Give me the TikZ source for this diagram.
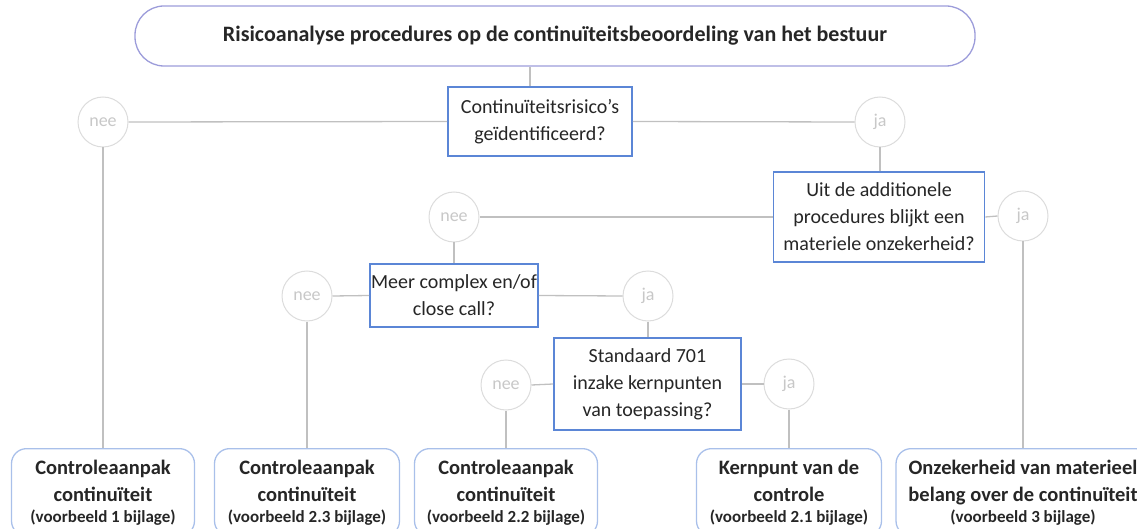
\documentclass[tikz,border=0pt]{standalone}
\usepackage{fontspec}
\setmainfont{Carlito}
\usetikzlibrary{positioning}

\definecolor{qblue}{HTML}{5B86D6}
\definecolor{titleline}{HTML}{9C9CDA}
\definecolor{outblue}{HTML}{A9C0EA}
\definecolor{linkgray}{HTML}{C0C0C0}
\definecolor{circgray}{HTML}{DCDCDC}
\definecolor{anstext}{HTML}{C8C8C8}
\definecolor{textdark}{HTML}{262626}

\newcommand{\bijlage}[1]{{\fontsize{17}{20}\selectfont (voorbeeld #1 bijlage)}}

\begin{document}
\begin{tikzpicture}[x=1pt, y=-1pt,
    titlebox/.style={draw=titleline, line width=1.3pt, rounded corners=29pt, minimum width=840pt, minimum height=60pt, text=textdark, font=\bfseries\fontsize{22}{26}\selectfont},
    question/.style={draw=qblue, line width=1.6pt, fill=white, align=center, inner sep=0pt, text=textdark, font=\fontsize{20}{27}\selectfont},
    answer/.style={circle, draw=circgray, line width=1pt, fill=white, minimum size=50pt, inner sep=0pt, text=anstext, font=\fontsize{18}{20}\selectfont},
    outcome/.style={draw=outblue, line width=1.3pt, rounded corners=15pt, anchor=north, align=center, inner xsep=0pt, inner ysep=11pt, text=textdark, font=\bfseries\fontsize{20.5}{27}\selectfont},
    link/.style={draw=linkgray, line width=1.3pt}]
    \useasboundingbox (0,0) rectangle (1137,529);
    \clip (0,0) rectangle (1137,529);
    % Title
    \node[titlebox] (title) at (555,36) {Risicoanalyse procedures op de continuïteitsbeoordeling van het bestuur};
    % Questions
    \node[question, minimum width=184pt, minimum height=69pt] (q1) at (540,121.5) {Continuïteitsrisico’s\\geïdentificeerd?};
    \node[question, minimum width=211pt, minimum height=90pt] (q2) at (879,217) {Uit de additionele\\procedures blijkt een\\materiele onzekerheid?};
    \node[question, minimum width=168pt, minimum height=63pt] (q3) at (454,295.5) {Meer complex en/of\\close call?};
    \node[question, minimum width=187pt, minimum height=92pt] (q4) at (647.5,384) {Standaard 701\\inzake kernpunten\\van toepassing?};
    % Answers
    \node[answer] (nee1) at (103,122) {nee};
    \node[answer] (ja1) at (880,122) {ja};
    \node[answer] (nee2) at (454,217) {nee};
    \node[answer] (ja2) at (1023,216) {ja};
    \node[answer] (nee3) at (307,296) {nee};
    \node[answer] (ja3) at (648,296) {ja};
    \node[answer] (nee4) at (506,385) {nee};
    \node[answer] (ja4) at (789,384) {ja};
    % Outcomes
    \node[outcome, minimum width=183pt] (b1) at (103,448) {Controleaanpak\\continuïteit\\[-6pt]\bijlage{1}};
    \node[outcome, minimum width=185pt] (b2) at (307,448) {Controleaanpak\\continuïteit\\[-6pt]\bijlage{2.3}};
    \node[outcome, minimum width=183pt] (b3) at (506,448) {Controleaanpak\\continuïteit\\[-6pt]\bijlage{2.2}};
    \node[outcome, minimum width=185pt] (b4) at (789,448) {Kernpunt van de\\controle\\[-6pt]\bijlage{2.1}};
    \node[outcome, minimum width=254pt] (b5) at (1023,448) {Onzekerheid van materieel\\belang over de continuïteit\\[-6pt]\bijlage{3}};
    % Connectors
    \path[link] ([xshift=-10pt]q1.north) -- ([xshift=-10pt]q1.north |- title.south);
    \path[link] (q1.west) -- (nee1.east);
    \path[link] (nee1.south) -- (b1.north);
    \path[link] (q1.east) -- (ja1.west);
    \path[link] (ja1.south) -- (q2.north -| ja1);
    \path[link] (q2.west) -- (nee2.east);
    \path[link] (nee2.south) -- (q3.north);
    \path[link] (q2.east) -- (ja2.west);
    \path[link] (ja2.south) -- (b5.north);
    \path[link] (q3.west) -- (nee3.east);
    \path[link] (nee3.south) -- (b2.north);
    \path[link] (q3.east) -- (ja3.west);
    \path[link] (ja3.south) -- (q4.north -| ja3);
    \path[link] (q4.west) -- (nee4.east);
    \path[link] (nee4.south) -- (b3.north);
    \path[link] (q4.east) -- (ja4.west);
    \path[link] (ja4.south) -- (b4.north);
\end{tikzpicture}
\end{document}
